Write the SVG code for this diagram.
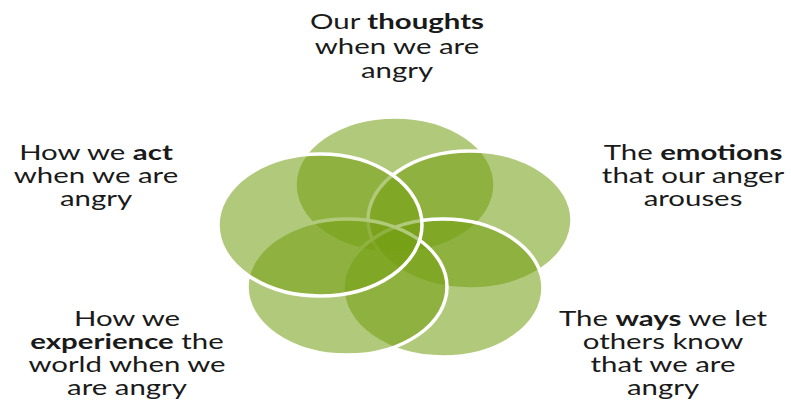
<svg xmlns="http://www.w3.org/2000/svg" width="791" height="400" viewBox="0 0 791 400">
<style>
.c{fill:rgb(116,158,18);fill-opacity:0.56;stroke:#ffffff;stroke-width:3.5}
.t{font-family:Lato,"Open Sans","Liberation Sans",sans-serif;font-size:21px;fill:#1a1a1a;text-anchor:middle}
.b{font-weight:bold}
</style>
<rect width="791" height="400" fill="#ffffff"/>
<g id="shapes">
<g id="c-thoughts"><ellipse class="c" cx="395" cy="185" rx="100" ry="68"/></g>
<g id="c-emotions"><ellipse class="c" cx="470" cy="220" rx="102" ry="69"/></g>
<g id="c-ways"><ellipse class="c" cx="443" cy="288" rx="100" ry="69"/></g>
<g id="c-experience"><ellipse class="c" cx="347" cy="287" rx="100" ry="68"/></g>
<g id="c-act"><ellipse class="c" cx="320" cy="225" rx="102" ry="71"/></g>
</g>
<g id="connectors"></g>
<g id="label-thoughts">
<text class="t" transform="translate(397,0) scale(1.4,1)"><tspan x="0" y="29">Our <tspan class="b">thoughts</tspan></tspan><tspan x="0" y="54">when we are</tspan><tspan x="0" y="78">angry</tspan></text>
</g>
<g id="label-act">
<text class="t" transform="translate(96,0) scale(1.4,1)"><tspan x="0" y="160">How we <tspan class="b">act</tspan></tspan><tspan x="0" y="183">when we are</tspan><tspan x="0" y="206">angry</tspan></text>
</g>
<g id="label-emotions">
<text class="t" transform="translate(693,0) scale(1.4,1)"><tspan x="0" y="160">The <tspan class="b">emotions</tspan></tspan><tspan x="0" y="183">that our anger</tspan><tspan x="0" y="206">arouses</tspan></text>
</g>
<g id="label-experience">
<text class="t" transform="translate(127,0) scale(1.4,1)"><tspan x="0" y="326">How we</tspan><tspan x="0" y="349"><tspan class="b">experience</tspan> the</tspan><tspan x="0" y="372">world when we</tspan><tspan x="0" y="395">are angry</tspan></text>
</g>
<g id="label-ways">
<text class="t" transform="translate(663,0) scale(1.4,1)"><tspan x="0" y="326">The <tspan class="b">ways</tspan> we let</tspan><tspan x="0" y="349">others know</tspan><tspan x="0" y="372">that we are</tspan><tspan x="0" y="395">angry</tspan></text>
</g>
</svg>
